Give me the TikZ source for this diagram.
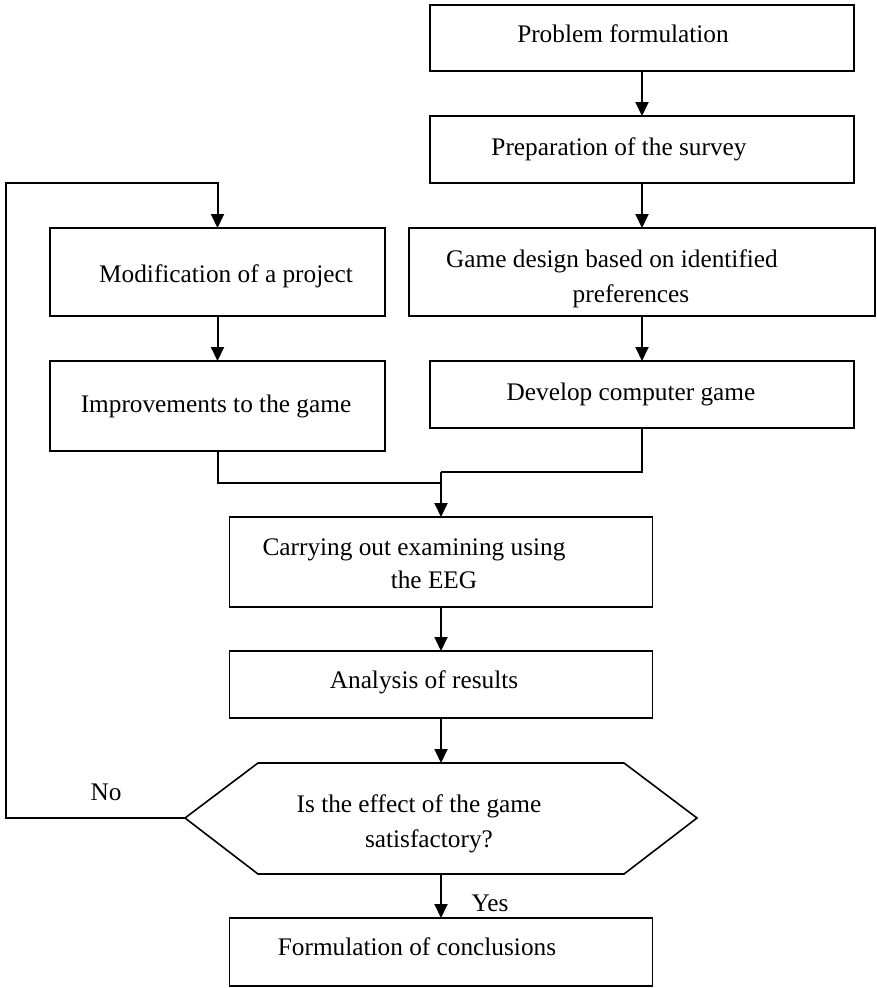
\documentclass[tikz,border=0pt]{standalone}
\usepackage{fontspec}
\setmainfont{Liberation Serif}
\usetikzlibrary{arrows.meta}
\begin{document}
\begin{tikzpicture}[x=1pt,y=-1pt,
  box/.style={draw, line width=1.6pt, inner sep=0pt, outer sep=0pt},
  lbl/.style={anchor=base, inner sep=0pt, font=\fontsize{25.3}{30}\selectfont},
  flow/.style={line width=2pt},
  arr/.style={flow, -{Triangle[width=13pt,length=14pt]}}]
\useasboundingbox (0,0) rectangle (876,988);

% process boxes
\node[box, minimum width=424pt, minimum height=66pt] (prob)  at (642,38)    {};
\node[box, minimum width=424pt, minimum height=67pt] (prep)  at (642,149.5) {};
\node[box, minimum width=466pt, minimum height=88pt] (game)  at (642,272)   {};
\node[box, minimum width=335pt, minimum height=88pt] (mod)   at (217.5,272) {};
\node[box, minimum width=335pt, minimum height=90pt] (imp)   at (217.5,406) {};
\node[box, minimum width=424pt, minimum height=67pt] (dev)   at (642,394.5) {};
\node[box, minimum width=423pt, minimum height=90pt] (carry) at (441,562)   {};
\node[box, minimum width=423pt, minimum height=67pt] (anal)  at (441,684.5) {};
\node[box, minimum width=423pt, minimum height=68pt] (concl) at (441,952)   {};

% decision hexagon
\coordinate (hexL) at (185,818);
\coordinate (hexT) at (441,763);
\coordinate (hexB) at (441,874);
\draw[line width=1.6pt] (hexL) -- (258,763) -- (624,763) -- (697,818)
  -- (624,874) -- (258,874) -- cycle;

% labels
\node[lbl] (tprob)  at (623,42)  {Problem formulation};
\node[lbl] (tprep)  at (619,155) {Preparation of the survey};
\node[lbl] (tgame1) at (612,267) {Game design based on identified};
\node[lbl] (tgame2) at (631,302) {preferences};
\node[lbl] (tmod)   at (226,282) {Modification of a project};
\node[lbl] (timp)   at (216,412) {Improvements to the game};
\node[lbl] (tdev)   at (631,400) {Develop computer game};
\node[lbl] (tcar1)  at (414,555) {Carrying out examining using};
\node[lbl] (tcar2)  at (434,588) {the EEG};
\node[lbl] (tanal)  at (424,688) {Analysis of results};
\node[lbl] (thex1)  at (419,812) {Is the effect of the game};
\node[lbl] (thex2)  at (429,847) {satisfactory?};
\node[lbl] (tconcl) at (417,955) {Formulation of conclusions};
\node[lbl] (tno)    at (106,800) {No};
\node[lbl] (tyes)   at (490,911) {Yes};

% connectors
\draw[arr] (prob.south) -- (prep.north);
\draw[arr] (prep.south) -- (game.north);
\draw[arr] (game.south) -- (dev.north);
\draw[arr] (mod.south) -- (imp.north);

\coordinate (merge) at (441,483);
\coordinate (joint) at (441,472);
\draw[flow] (imp.south) |- (merge);
\draw[flow] (dev.south) |- (joint);
\draw[arr] (joint) -- (carry.north);

\draw[arr] (carry.south) -- (anal.north);
\draw[arr] (anal.south) -- (hexT);
\draw[arr] (hexB) -- (concl.north);

\coordinate (loop) at (6,183);
\draw[arr] (hexL) -| (loop) -| (mod.north);
\end{tikzpicture}
\end{document}
